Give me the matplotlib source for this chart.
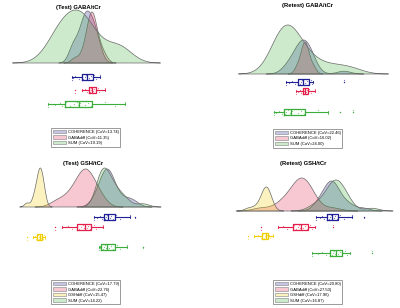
import numpy as np
import matplotlib
matplotlib.use("Agg")
import matplotlib.pyplot as plt
from matplotlib.patches import Patch
from matplotlib.colors import to_rgba
from matplotlib import font_manager

# values (x units arbitrary, one scale for each panel)
titles = ["(Test) GABA/tCr", "(Retest) GABA/tCr", "(Test) GSH/tCr", "(Retest) GSH/tCr"]

gaba_methods = ["COHERENCE", "GABAdiff", "SUM"]
gsh_methods = ["COHERENCE", "GABAdiff", "GSHdiff", "SUM"]

test_gaba_cov = [13.74, 11.35, 19.19]
retest_gaba_cov = [22.46, 16.02, 24.00]
test_gsh_cov = [17.79, 22.76, 15.47, 14.22]
retest_gsh_cov = [20.80, 27.50, 17.96, 16.87]

test_gaba_coherence = [0.72, 0.73, 0.75, 0.79, 0.81, 0.82, 0.83, 0.85, 0.86, 0.87,
                       0.87, 0.88, 0.89, 0.91, 0.93, 0.93, 0.94, 0.96, 0.98, 1.00]
test_gaba_gabadiff = [0.75, 0.82, 0.85, 0.87, 0.88, 0.89, 0.90, 0.91, 0.91, 0.92,
                      0.92, 0.93, 0.93, 0.94, 0.955, 0.965, 0.975, 0.99, 1.02, 1.05]
test_gaba_sum = [0.48, 0.55, 0.60, 0.62, 0.63, 0.66, 0.70, 0.74, 0.77, 0.78,
                 0.80, 0.82, 0.85, 0.88, 0.91, 0.95, 1.05, 1.15, 1.20, 1.25]

retest_gaba_coherence = [0.86, 0.89, 0.92, 0.95, 0.97, 0.98, 1.00, 1.01, 1.02, 1.03,
                         1.03, 1.04, 1.05, 1.07, 1.09, 1.10, 1.11, 1.12, 1.13, 1.44]
retest_gaba_gabadiff = [0.96, 0.98, 1.00, 1.01, 1.02, 1.03, 1.03, 1.04, 1.05, 1.05,
                        1.05, 1.06, 1.06, 1.07, 1.08, 1.09, 1.09, 1.11, 1.13, 1.15]
retest_gaba_sum = [0.74, 0.76, 0.79, 0.82, 0.83, 0.84, 0.85, 0.86, 0.88, 0.90,
                   0.92, 0.94, 0.98, 1.01, 1.04, 1.08, 1.18, 1.28, 1.40, 1.53]

test_gsh_coherence = [0.94, 0.97, 1.00, 1.02, 1.03, 1.04, 1.05, 1.06, 1.07, 1.08, 1.08,
                      1.09, 1.10, 1.11, 1.13, 1.15, 1.16, 1.20, 1.26, 1.30, 1.35]
test_gsh_gabadiff = [0.55, 0.62, 0.68, 0.72, 0.75, 0.77, 0.79, 0.81, 0.83, 0.84,
                     0.85, 0.86, 0.87, 0.88, 0.90, 0.92, 0.94, 0.96, 0.99, 1.03]
test_gsh_gshdiff = [0.27, 0.33, 0.35, 0.36, 0.37, 0.38, 0.39, 0.39, 0.40,
                    0.40, 0.40, 0.41, 0.41, 0.42, 0.43, 0.43, 0.44, 0.45]
test_gsh_sum = [0.99, 1.00, 1.00, 1.01, 1.01, 1.01, 1.03, 1.04, 1.05, 1.06, 1.07,
                1.08, 1.09, 1.11, 1.13, 1.15, 1.17, 1.20, 1.24, 1.27, 1.43]

retest_gsh_coherence = [1.16, 1.20, 1.22, 1.24, 1.26, 1.27, 1.29, 1.30, 1.31, 1.32, 1.32,
                        1.33, 1.34, 1.35, 1.37, 1.38, 1.40, 1.44, 1.48, 1.52, 1.64]
retest_gsh_gabadiff = [0.61, 0.78, 0.83, 0.87, 0.91, 0.94, 0.96, 0.98, 0.99, 1.00,
                       1.01, 1.02, 1.03, 1.05, 1.07, 1.09, 1.10, 1.12, 1.15, 1.33]
retest_gsh_gshdiff = [0.48, 0.54, 0.58, 0.61, 0.62, 0.63, 0.64, 0.65, 0.66,
                      0.66, 0.67, 0.67, 0.68, 0.69, 0.70, 0.71, 0.73]
retest_gsh_sum = [1.12, 1.18, 1.22, 1.26, 1.29, 1.30, 1.32, 1.33, 1.34, 1.35,
                  1.36, 1.37, 1.38, 1.40, 1.42, 1.43, 1.45, 1.47, 1.50, 1.72]

# relative peak heights of the density curves
test_gaba_peaks = [52, 51, 53]
retest_gaba_peaks = [34, 32, 49]
test_gsh_peaks = [38, 38, 39, 39]
retest_gsh_peaks = [30, 33, 24, 31]

line_colors = {"COHERENCE": "#1f1f96", "GABAdiff": "#e3204c",
               "GSHdiff": "#f2cf00", "SUM": "#3aad3a"}
fill_alpha = 0.25

try:
    font_manager.findfont("Liberation Sans Narrow", fallback_to_default=False)
    fam = ["Liberation Sans Narrow", "DejaVu Sans"]
except Exception:
    fam = ["Liberation Sans", "DejaVu Sans"]
plt.rcParams["font.family"] = fam

panels = [
    (titles[0], gaba_methods, test_gaba_cov,
     [test_gaba_coherence, test_gaba_gabadiff, test_gaba_sum], test_gaba_peaks),
    (titles[1], gaba_methods, retest_gaba_cov,
     [retest_gaba_coherence, retest_gaba_gabadiff, retest_gaba_sum], retest_gaba_peaks),
    (titles[2], gsh_methods, test_gsh_cov,
     [test_gsh_coherence, test_gsh_gabadiff, test_gsh_gshdiff, test_gsh_sum], test_gsh_peaks),
    (titles[3], gsh_methods, retest_gsh_cov,
     [retest_gsh_coherence, retest_gsh_gabadiff, retest_gsh_gshdiff, retest_gsh_sum], retest_gsh_peaks),
]

# layout in pixels inside each 200x154 panel
ax_rects = [[0, 0.5, 0.5, 0.5], [0.5, 0.5, 0.5, 0.5], [0, 0, 0.5, 0.5], [0.5, 0, 0.5, 0.5]]
baselines = [63, 74, 53, 57]
box_rows = [[-14, -27, -41], [-8, -17, -38], [-10, -20, -30, -40], [-6, -16, -25, -42]]
title_pos = [(0.78, 7), (1.08, 6), (0.83, 10), (1.03, 10)]
legend_anchor = [(0.255, 1 - 128 / 154), (0.365, 1 - 129 / 154),
                 (0.255, 1 - 126 / 154), (0.365, 1 - 126 / 154)]


def density(vals):
    v = np.asarray(vals)
    bw = v.std(ddof=1) * len(v) ** -0.2
    grid = np.linspace(v.min() - 3 * bw, v.max() + 3 * bw, 400)
    d = np.exp(-0.5 * ((grid[:, None] - v[None, :]) / bw) ** 2).sum(axis=1)
    return grid, d / d.max()


fig = plt.figure(figsize=(4, 3.08), dpi=100)
for k, (title, methods, covs, series, peaks) in enumerate(panels):
    ax = fig.add_axes(ax_rects[k])
    base = baselines[k]
    ax.set_xlim(0, 2.0)
    ax.set_ylim(base - 154, base)
    ax.axis("off")

    handles = []
    for name, vals, h in zip(methods, series, peaks):
        c = line_colors[name]
        fc = to_rgba(c, fill_alpha)
        x, d = density(vals)
        ax.fill(np.r_[x[0], x, x[-1]], np.r_[0, d * h, 0], fc=fc, ec="#6a6a6a", lw=0.5)
        handles.append(Patch(fc=fc, ec="#808080", lw=0.4))

    for name, vals, yb in zip(methods, series, box_rows[k]):
        c = line_colors[name]
        ax.boxplot(vals, positions=[yb], widths=6, orientation="horizontal",
                   manage_ticks=False, capwidths=2,
                   boxprops=dict(color=c, lw=0.9),
                   medianprops=dict(color=c, lw=0.9),
                   whiskerprops=dict(color=c, lw=0.8),
                   capprops=dict(color=c, lw=0.6),
                   flierprops=dict(marker=".", ms=2, mfc=c, mec=c, mew=0))
        n = len(vals)
        offs = ((np.arange(n) * 37) % 11 - 5) * 0.5
        ax.scatter(vals, yb + offs, s=0.8, c=c, alpha=0.6, lw=0)

    tx, ty = title_pos[k]
    ax.text(tx, base - ty, title, ha="center", va="center", fontsize=4.2, fontweight="bold")

    labels = [f"{m} (CoV={v:.2f})" for m, v in zip(methods, covs)]
    leg = ax.legend(handles, labels, loc="upper left", bbox_to_anchor=legend_anchor[k],
                    borderaxespad=0, fontsize=3.0, handlelength=3.1, handleheight=1.0,
                    labelspacing=0.3, borderpad=0.4, handletextpad=0.5,
                    fancybox=False, framealpha=1, edgecolor="#8a8a8a")
    leg.get_frame().set_linewidth(0.6)

fig.savefig("out.png", dpi=100)
